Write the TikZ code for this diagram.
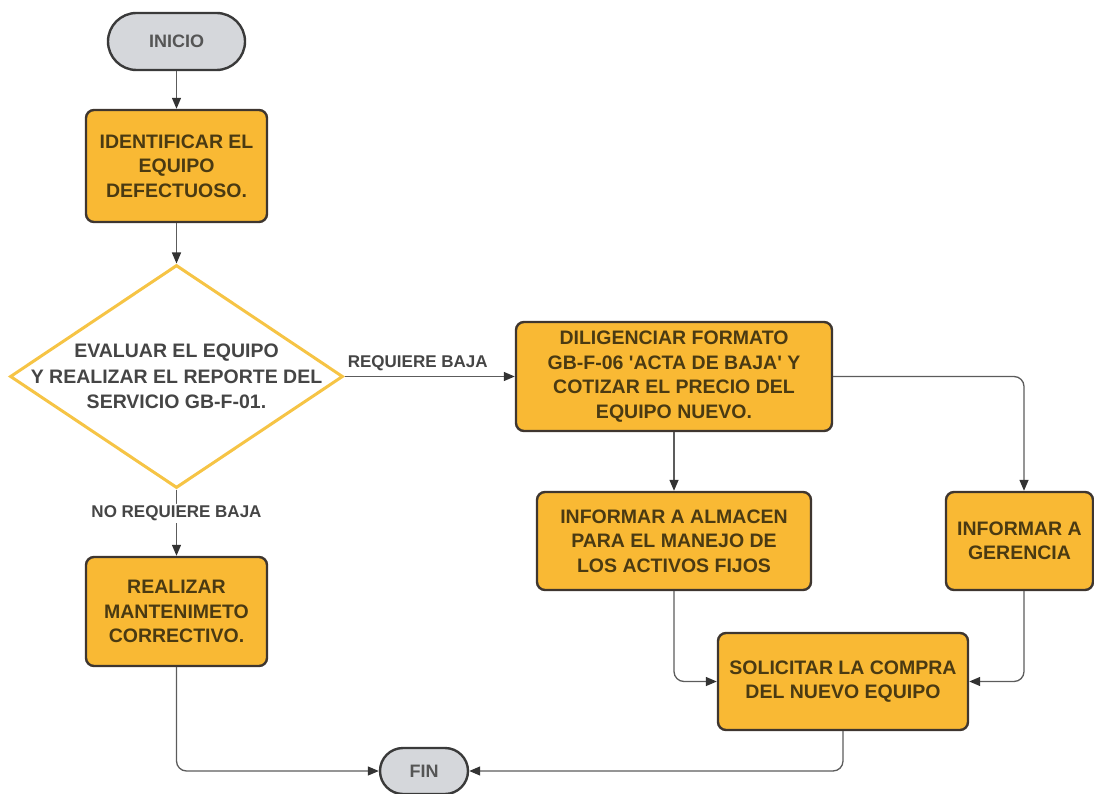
\documentclass[tikz,border=0pt]{standalone}
\usepackage{fontspec}
\setmainfont{Liberation Sans}
\usetikzlibrary{arrows.meta,shapes.geometric}
\definecolor{boxfill}{HTML}{F9B934}
\definecolor{boxline}{HTML}{3E3630}
\definecolor{boxtext}{HTML}{4A3A12}
\definecolor{termfill}{HTML}{D5D7DB}
\definecolor{termline}{HTML}{3A3A3A}
\definecolor{termtext}{HTML}{555555}
\definecolor{diaLine}{HTML}{F6C445}
\definecolor{linecol}{HTML}{5C5C5C}
\definecolor{tipcol}{HTML}{333333}
\definecolor{labtext}{HTML}{454545}
\begin{document}
\begin{tikzpicture}[x=1pt,y=-1pt,
  box/.style={draw=boxline, fill=boxfill, line width=2.4pt, rounded corners=8pt, inner sep=0pt, align=center, text=boxtext, font=\fontsize{19.5}{24.5}\selectfont\bfseries},
  term/.style={draw=termline, fill=termfill, line width=2.4pt, inner sep=0pt, text=termtext, font=\fontsize{18}{22}\selectfont\bfseries},
  decision/.style={diamond, draw=diaLine, fill=white, line width=3pt, inner sep=0pt, minimum width=333pt, minimum height=223pt},
  dtext/.style={align=center, text=labtext, inner sep=0pt, font=\fontsize{19.5}{25.5}\selectfont\bfseries},
  conn/.style={draw=linecol, line width=1.3pt, rounded corners=10pt, -{Triangle[length=11pt,width=9pt,color=tipcol]}},
  lab/.style={text=labtext, inner sep=2pt, font=\fontsize{17}{20}\selectfont\bfseries}]
\useasboundingbox (0,0) rectangle (1094,794);
\node[term, minimum width=137pt, minimum height=57pt, rounded corners=28.5pt] (ini) at (176.5,41.5) {INICIO};
\node[box, minimum width=181pt, minimum height=112pt] (ident) at (176.5,166) {IDENTIFICAR EL\\EQUIPO\\DEFECTUOSO.};
\node[decision] (dia) at (176.5,376.5) {};
\node[dtext] (diatxt) at (dia.center) {EVALUAR EL EQUIPO\\Y REALIZAR EL REPORTE DEL\\SERVICIO GB-F-01.};
\node[box, minimum width=316pt, minimum height=109pt] (dilig) at (674,376.5) {DILIGENCIAR FORMATO\\GB-F-06 \textquotesingle ACTA DE BAJA\textquotesingle{} Y\\COTIZAR EL PRECIO DEL\\EQUIPO NUEVO.};
\node[box, minimum width=274pt, minimum height=98pt] (alm) at (674,541) {INFORMAR A ALMACEN\\PARA EL MANEJO DE\\LOS ACTIVOS FIJOS};
\node[box, minimum width=147pt, minimum height=98pt] (ger) at (1019.5,541) {INFORMAR A\\GERENCIA};
\node[box, minimum width=250pt, minimum height=97pt] (sol) at (843,681.5) {SOLICITAR LA COMPRA\\DEL NUEVO EQUIPO};
\node[box, minimum width=181pt, minimum height=109pt] (real) at (176.5,611.5) {REALIZAR\\MANTENIMETO\\CORRECTIVO.};
\node[term, minimum width=88pt, minimum height=46pt, rounded corners=23pt] (fin) at (424,771) {FIN};
\draw[conn] (ini) -- (ident);
\draw[conn] (ident) -- (dia.north);
\draw[conn] (dia.east) -- node[lab, pos=0.43, above=3pt] {REQUIERE BAJA} (dilig.west);
\draw[conn] (dia.south) -- node[lab, pos=0.36, fill=white] {NO REQUIERE BAJA} (real.north);
\draw[conn] (dilig) -- (alm);
\draw[conn] (dilig.east) -| ([xshift=4.5pt]ger.north);
\draw[conn] (alm.south) |- (sol.west);
\draw[conn] ([xshift=4.5pt]ger.south) |- (sol.east);
\draw[conn] (real.south) |- (fin.west);
\draw[conn] (sol.south) |- (fin.east);
\end{tikzpicture}
\end{document}
